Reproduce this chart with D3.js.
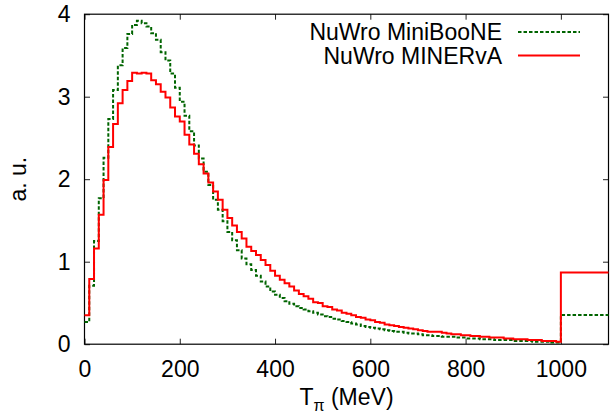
<!DOCTYPE html>
<html>
<head>
<meta charset="utf-8">
<script src="https://cdn.jsdelivr.net/npm/d3@7"></script>
<style>
  body { margin: 0; background: #fff; }
  svg { font-family: "Liberation Sans", Arial, sans-serif; }
</style>
</head>
<body>
<div id="container"></div>
<script>
/* size of the page and the plot frame */
const width = 611;
const height = 418;
const margin = {left: 84.5, right: 2.5, top: 14.2, bottom: 73.8};

/* DATA - 10 MeV bins from 0 to 1000, plus one overflow bin 1000-1100 */
const binEdges = d3.range(0, 1001, 10).concat([1100]);

const minibooneValues = [
  0.27, 0.71, 1.25, 1.77, 2.26, 2.73, 3.08, 3.38, 3.59, 3.76,
  3.87, 3.92, 3.89, 3.85, 3.77, 3.69, 3.54, 3.44, 3.28, 3.11,
  2.94, 2.77, 2.58, 2.41, 2.25, 2.09, 1.93, 1.75, 1.63, 1.49,
  1.36, 1.26, 1.14, 1.04, 0.97, 0.90, 0.83, 0.76, 0.70, 0.64,
  0.60, 0.56, 0.52, 0.49, 0.46, 0.44, 0.42, 0.40, 0.38, 0.36,
  0.34, 0.33, 0.31, 0.30, 0.28, 0.27, 0.25, 0.24, 0.22, 0.21,
  0.20, 0.19, 0.18, 0.17, 0.16, 0.15, 0.15, 0.14, 0.13, 0.13,
  0.12, 0.11, 0.11, 0.10, 0.10, 0.09, 0.09, 0.09, 0.08, 0.08,
  0.07, 0.07, 0.07, 0.06, 0.06, 0.06, 0.05, 0.05, 0.05, 0.05,
  0.04, 0.04, 0.04, 0.04, 0.03, 0.03, 0.03, 0.03, 0.02, 0.02,
  0.354
];

const minervaValues = [
  0.35, 0.79, 1.16, 1.57, 1.99, 2.39, 2.67, 2.92, 3.08, 3.19,
  3.29, 3.28, 3.29, 3.28, 3.20, 3.15, 3.06, 2.99, 2.87, 2.76,
  2.70, 2.54, 2.42, 2.31, 2.18, 2.07, 1.96, 1.85, 1.75, 1.63,
  1.53, 1.44, 1.36, 1.28, 1.18, 1.13, 1.08, 1.02, 0.96, 0.89,
  0.83, 0.78, 0.74, 0.70, 0.65, 0.61, 0.58, 0.55, 0.51, 0.50,
  0.46, 0.45, 0.42, 0.41, 0.38, 0.37, 0.35, 0.33, 0.32, 0.30,
  0.29, 0.27, 0.26, 0.24, 0.23, 0.22, 0.21, 0.20, 0.19, 0.18,
  0.17, 0.16, 0.15, 0.15, 0.15, 0.14, 0.13, 0.12, 0.12, 0.11,
  0.11, 0.10, 0.10, 0.09, 0.09, 0.08, 0.08, 0.08, 0.07, 0.07,
  0.06, 0.06, 0.06, 0.05, 0.05, 0.05, 0.04, 0.04, 0.04, 0.03,
  0.87
];

const seriesNames = ["NuWro MiniBooNE", "NuWro MINERvA"];
const xTicks = [0, 200, 400, 600, 800, 1000];
const yTicks = [0, 1, 2, 3, 4];

const svg = d3.select("#container")
  .append("svg")
  .attr("width", width)
  .attr("height", height);

/* SCALES */
const xScale = d3.scaleLinear()
  .domain([0, 1100])
  .range([margin.left, width - margin.right]);

const yScale = d3.scaleLinear()
  .domain([0, 4])
  .range([height - margin.bottom, margin.top]);

/* AXES - gnuplot style, inward ticks mirrored on all four sides */
const fontSize = 23;

const xAxis = svg.append("g")
  .attr("transform", `translate(0,${yScale(0)})`)
  .call(d3.axisBottom(xScale).tickValues(xTicks).tickSize(-5.5).tickPadding(16).tickFormat(d3.format("d")));

const xTop = svg.append("g")
  .attr("transform", `translate(0,${yScale(4)})`)
  .call(d3.axisTop(xScale).tickValues(xTicks).tickSize(-5.5).tickFormat(""));

const yAxis = svg.append("g")
  .attr("transform", `translate(${xScale(0)},0)`)
  .call(d3.axisLeft(yScale).tickValues(yTicks).tickSize(-5.5).tickPadding(14).tickFormat(d3.format("d")));

const yRight = svg.append("g")
  .attr("transform", `translate(${xScale(1100)},0)`)
  .call(d3.axisRight(yScale).tickValues(yTicks).tickSize(-5.5).tickFormat(""));

[xAxis, xTop, yAxis, yRight].forEach(g => {
  g.select(".domain").remove();
  g.selectAll(".tick line").attr("stroke", "#222");
  g.selectAll("text")
    .attr("font-size", fontSize)
    .attr("font-family", "\"Liberation Sans\", Arial, sans-serif")
    .attr("fill", "#000");
});

/* frame */
svg.append("rect")
  .attr("x", xScale(0))
  .attr("y", yScale(4))
  .attr("width", xScale(1100) - xScale(0))
  .attr("height", yScale(0) - yScale(4))
  .attr("fill", "none")
  .attr("stroke", "#000")
  .attr("stroke-width", 1.2);

/* HISTOGRAM LINES (steps) */
function stepPoints(values) {
  const pts = values.map((v, i) => [binEdges[i], v]);
  pts.push([binEdges[values.length], values[values.length - 1]]);
  return pts;
}

const stepLine = d3.line()
  .x(d => xScale(d[0]))
  .y(d => yScale(d[1]))
  .curve(d3.curveStepAfter);

svg.append("path")
  .datum(stepPoints(minibooneValues))
  .attr("d", stepLine)
  .attr("fill", "none")
  .attr("stroke", "#006400")
  .attr("stroke-width", 2)
  .attr("stroke-dasharray", "3.5,2");

svg.append("path")
  .datum(stepPoints(minervaValues))
  .attr("d", stepLine)
  .attr("fill", "none")
  .attr("stroke", "#ff0000")
  .attr("stroke-width", 2);

/* LEGEND */
const legend = svg.append("g");
const legendRows = [
  {name: seriesNames[0], color: "#006400", dash: "3.5,2", y: 32},
  {name: seriesNames[1], color: "#ff0000", dash: null, y: 55.5}
];
legendRows.forEach(r => {
  legend.append("text")
    .attr("x", 502)
    .attr("y", r.y)
    .attr("dy", "0.35em")
    .attr("text-anchor", "end")
    .attr("font-size", fontSize)
    .text(r.name);
  legend.append("line")
    .attr("x1", 518).attr("x2", 580)
    .attr("y1", r.y).attr("y2", r.y)
    .attr("stroke", r.color)
    .attr("stroke-width", 2)
    .attr("stroke-dasharray", r.dash);
});

/* AXIS TITLES */
const xTitle = svg.append("text")
  .attr("x", (xScale(0) + xScale(1100)) / 2)
  .attr("y", 405)
  .attr("text-anchor", "middle")
  .attr("font-size", fontSize);
xTitle.append("tspan").text("T");
xTitle.append("tspan").attr("font-size", 16).attr("dy", 6).text("π");
xTitle.append("tspan").attr("dy", -6).text(" (MeV)");

svg.append("text")
  .attr("transform", `translate(26,${(yScale(0) + yScale(4)) / 2}) rotate(-90)`)
  .attr("text-anchor", "middle")
  .attr("font-size", fontSize)
  .text("a. u.");
</script>
</body>
</html>
